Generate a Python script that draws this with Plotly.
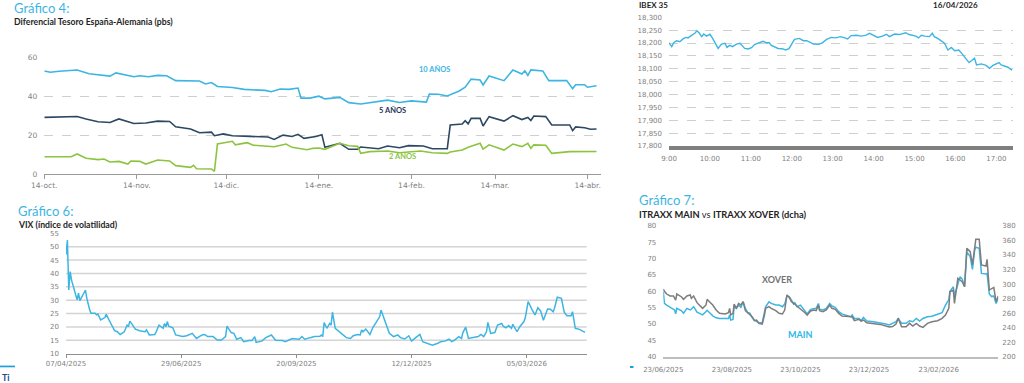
import plotly.graph_objects as go

# ---------------- DATA ----------------
# Gráfico 4: Diferencial Tesoro España-Alemania (pbs)
spread10_dates = ["2025-10-14","2025-10-16","2025-10-19","2025-10-22","2025-10-25","2025-10-29","2025-11-01","2025-11-05","2025-11-07","2025-11-10","2025-11-13","2025-11-15","2025-11-18","2025-11-21","2025-11-24","2025-11-27","2025-12-05","2025-12-07","2025-12-09","2025-12-11","2025-12-16","2025-12-20","2025-12-27","2025-12-29","2026-01-01","2026-01-04","2026-01-07","2026-01-08","2026-01-11","2026-01-14","2026-01-16","2026-01-21","2026-01-24","2026-01-28","2026-02-03","2026-02-06","2026-02-10","2026-02-14","2026-02-19","2026-02-20","2026-02-23","2026-02-26","2026-03-02","2026-03-04","2026-03-06","2026-03-09","2026-03-10","2026-03-12","2026-03-17","2026-03-20","2026-03-23","2026-03-24","2026-03-25","2026-03-26","2026-03-30","2026-04-01","2026-04-07","2026-04-09","2026-04-10","2026-04-13","2026-04-14","2026-04-17"]
spread10_vals = [53,52.3,52.8,53,53.5,51.5,51,50.3,52,51,50,50.5,50,50.7,50.5,48,47.8,46.3,47,45,44.5,43.5,43,42.3,43.7,43.5,44.2,39,39,40,38.6,39.4,36.7,36,37.2,38,36.8,37.6,37,41.1,41,40.1,42.7,44.6,48.8,48.3,45.8,50.4,48,53.5,51.4,53.1,50.7,53.5,53,48,48,43.9,45.9,45.9,44.6,45.4]

spread5_dates = ["2025-10-14","2025-10-25","2025-10-28","2025-11-01","2025-11-05","2025-11-08","2025-11-13","2025-11-17","2025-11-21","2025-11-25","2025-11-27","2025-12-02","2025-12-05","2025-12-09","2025-12-10","2025-12-13","2025-12-16","2025-12-22","2025-12-28","2025-12-30","2026-01-02","2026-01-05","2026-01-07","2026-01-09","2026-01-13","2026-01-15","2026-01-16","2026-01-21","2026-01-24","2026-01-27","2026-01-28","2026-02-03","2026-02-06","2026-02-10","2026-02-13","2026-02-18","2026-02-21","2026-02-26","2026-02-27","2026-03-03","2026-03-04","2026-03-05","2026-03-06","2026-03-09","2026-03-10","2026-03-12","2026-03-17","2026-03-20","2026-03-23","2026-03-25","2026-03-26","2026-03-27","2026-03-31","2026-04-02","2026-04-08","2026-04-09","2026-04-10","2026-04-13","2026-04-15","2026-04-17"]
spread5_vals = [29.1,29.6,28.3,26.9,26.5,28.3,26,26.2,27.2,27,24.3,23.1,21.2,21.5,19.7,20.6,19.7,19.2,19,17.8,20,19.3,20.4,18.3,19.3,20.2,13.7,15.8,12.7,12.7,13.9,13,14.4,13.5,14.6,14.4,13,13,25.2,25.7,27.4,25.8,28.6,28.6,24.7,29.5,27.2,30,28,29.1,27.5,29.8,29.5,25.2,25.2,22.3,24.2,23.8,23,23.1]

spread2_dates = ["2025-10-14","2025-10-21","2025-10-23","2025-10-25","2025-10-28","2025-11-01","2025-11-03","2025-11-05","2025-11-08","2025-11-11","2025-11-12","2025-11-15","2025-11-17","2025-11-21","2025-11-25","2025-11-27","2025-12-02","2025-12-03","2025-12-04","2025-12-09","2025-12-10","2025-12-11","2025-12-13","2025-12-16","2025-12-17","2025-12-21","2025-12-23","2025-12-28","2025-12-30","2026-01-03","2026-01-05","2026-01-10","2026-01-12","2026-01-14","2026-01-16","2026-01-21","2026-01-24","2026-01-27","2026-01-28","2026-01-31","2026-02-06","2026-02-10","2026-02-17","2026-02-21","2026-02-26","2026-02-27","2026-03-03","2026-03-05","2026-03-09","2026-03-10","2026-03-12","2026-03-17","2026-03-20","2026-03-23","2026-03-25","2026-03-26","2026-03-27","2026-03-31","2026-04-02","2026-04-08","2026-04-10","2026-04-15","2026-04-17"]
spread2_vals = [8.9,9.2,8.9,10.3,8.1,7.4,7.7,6.2,6.5,5.1,6.7,6.5,5.1,7.2,6.7,4.3,3.4,4.5,2.7,2.6,1.4,15.4,16.1,16.8,15,16.1,14.8,14.1,14,15.4,13.7,12.5,13.2,13.4,12.7,15.8,14.5,14.2,10.6,11.5,11.8,10.9,11.8,10.9,10.6,11.3,12.3,13.7,15.8,12.8,15,12.3,15.4,14.1,15.8,13.2,15,14.8,10.6,11.5,11.5,11.3,11.6]

spread_tick_dates = ["2025-10-14","2025-11-14","2025-12-14","2026-01-14","2026-02-14","2026-03-14","2026-04-14"]
spread_tick_text = ["14-oct.","14-nov.","14-dic.","14-ene.","14-feb.","14-mar.","14-abr."]

# IBEX 35 intradía 16/04/2026
ibex_day = "2026-04-16"
ibex_times = ["09:00","09:04","09:07","09:11","09:16","09:21","09:25","09:28","09:33","09:38","09:41","09:44","09:48","09:51","09:55","10:00","10:04","10:07","10:12","10:17","10:22","10:25","10:29","10:33","10:39","10:44","10:48","10:51","10:56","11:01","11:06","11:12","11:18","11:23","11:27","11:30","11:35","11:40","11:46","11:51","11:56","12:00","12:04","12:11","12:17","12:22","12:27","12:32","12:39","12:45","12:51","12:58","13:05","13:11","13:18","13:22","13:27","13:35","13:42","13:49","13:54","14:00","14:06","14:13","14:19","14:23","14:31","14:38","14:44","14:47","14:52","14:58","15:02","15:06","15:10","15:15","15:22","15:26","15:29","15:34","15:39","15:44","15:49","15:54","15:59","16:05","16:11","16:16","16:20","16:24","16:28","16:31","16:38","16:45","16:50","16:55","17:00","17:04","17:07","17:12","17:17","17:23"]
ibex_vals = [18201,18186,18201,18209,18205,18217,18222,18220,18230,18238,18248,18240,18225,18235,18227,18234,18218,18201,18179,18196,18199,18183,18191,18186,18196,18199,18186,18179,18177,18182,18195,18201,18207,18201,18201,18191,18186,18179,18178,18173,18178,18199,18214,18218,18209,18209,18201,18196,18195,18201,18214,18222,18220,18225,18220,18216,18229,18230,18227,18231,18238,18231,18222,18227,18234,18225,18235,18233,18238,18240,18233,18231,18227,18220,18230,18227,18225,18238,18225,18218,18209,18199,18173,18183,18170,18173,18154,18137,18124,18132,18141,18115,18119,18113,18102,18113,18119,18124,18115,18111,18106,18095]
ibex_tick_times = ["09:00","10:00","11:00","12:00","13:00","14:00","15:00","16:00","17:00"]
ibex_tick_text = ["9:00","10:00","11:00","12:00","13:00","14:00","15:00","16:00","17:00"]

# Gráfico 6: VIX
vix_dates = ["2025-04-07","2025-04-08","2025-04-09","2025-04-10","2025-04-11","2025-04-14","2025-04-15","2025-04-16","2025-04-17","2025-04-21","2025-04-22","2025-04-24","2025-04-25","2025-04-28","2025-04-29","2025-04-30","2025-05-02","2025-05-05","2025-05-06","2025-05-08","2025-05-12","2025-05-14","2025-05-16","2025-05-19","2025-05-21","2025-05-22","2025-05-23","2025-05-27","2025-05-30","2025-06-03","2025-06-04","2025-06-06","2025-06-10","2025-06-11","2025-06-13","2025-06-16","2025-06-17","2025-06-18","2025-06-19","2025-06-20","2025-06-23","2025-06-25","2025-06-30","2025-07-03","2025-07-07","2025-07-10","2025-07-14","2025-07-16","2025-07-18","2025-07-22","2025-07-25","2025-07-28","2025-07-31","2025-08-01","2025-08-04","2025-08-06","2025-08-08","2025-08-11","2025-08-13","2025-08-17","2025-08-19","2025-08-21","2025-08-22","2025-08-26","2025-08-29","2025-09-02","2025-09-05","2025-09-10","2025-09-12","2025-09-17","2025-09-22","2025-09-24","2025-09-26","2025-09-30","2025-10-03","2025-10-07","2025-10-08","2025-10-09","2025-10-10","2025-10-12","2025-10-14","2025-10-15","2025-10-16","2025-10-18","2025-10-21","2025-10-23","2025-10-26","2025-10-29","2025-10-31","2025-11-03","2025-11-05","2025-11-06","2025-11-07","2025-11-09","2025-11-12","2025-11-14","2025-11-16","2025-11-19","2025-11-20","2025-11-22","2025-11-24","2025-11-26","2025-11-29","2025-12-02","2025-12-04","2025-12-07","2025-12-10","2025-12-12","2025-12-15","2025-12-18","2025-12-20","2025-12-24","2025-12-27","2025-12-31","2026-01-02","2026-01-05","2026-01-08","2026-01-10","2026-01-12","2026-01-15","2026-01-17","2026-01-18","2026-01-20","2026-01-22","2026-01-25","2026-01-29","2026-01-31","2026-02-02","2026-02-04","2026-02-05","2026-02-07","2026-02-10","2026-02-12","2026-02-15","2026-02-16","2026-02-18","2026-02-20","2026-02-22","2026-02-23","2026-02-26","2026-02-28","2026-03-03","2026-03-04","2026-03-06","2026-03-09","2026-03-11","2026-03-13","2026-03-15","2026-03-17","2026-03-20","2026-03-22","2026-03-24","2026-03-25","2026-03-27","2026-03-30","2026-04-01","2026-04-03","2026-04-06","2026-04-07","2026-04-09","2026-04-12","2026-04-16"]
vix_vals = [47,52.5,33.8,40.7,37.5,31.5,30.1,32.6,29.8,33.8,30.7,26.5,25.1,25.1,24.5,24.8,22.6,23.5,24.7,22.6,18.6,18.2,17.2,18.2,20.7,20.1,22.2,19.2,18.6,18.2,18.9,17,17.2,18.2,20.7,19.5,21.3,20.1,22,20.3,19.7,17,16.4,16.7,17.6,15.7,17,17.2,16.4,16.4,15.1,15.1,16.4,20.3,17.9,17.6,15.4,16,14.5,14.9,14.9,16.4,14.2,14.7,16,17,15,14.9,14.5,15.7,15.4,16.4,15.4,16,16.4,16.5,17,16.4,21.6,19.5,21.3,20.7,25.5,19.5,18.2,17.6,16,15.7,16.7,17.2,17,18.9,18.2,19.2,17.2,19.7,21.3,23.8,26.3,23.5,20.7,17.6,16.4,17,16,15.5,16.7,14.7,16,17.2,14.5,13.9,13.2,13.9,14.5,14.7,15.4,14.5,15.1,16.4,15.7,17.9,19.9,15.7,16,16.4,17.2,16.4,18.2,21.7,17.6,17.9,20.7,21.3,20.3,19.7,20.5,19.5,21,18.2,20.1,22,23.5,29.5,26.3,24.5,27.2,26,22.5,26.7,26.6,25.7,27,31.1,30.7,25.5,24.2,24.2,25.7,19.5,19.1,18]
vix_tick_dates = ["2025-04-07","2025-06-29","2025-09-20","2025-12-12","2026-03-05"]
vix_tick_text = ["07/04/2025","29/06/2025","20/09/2025","12/12/2025","05/03/2026"]
vix_grid_levels = [15, 20, 25, 30, 35, 40, 45, 50]

# Gráfico 7: ITRAXX MAIN vs ITRAXX XOVER (dcha)
itraxx_dates = ["2025-06-23","2025-06-24","2025-06-26","2025-06-29","2025-07-02","2025-07-03","2025-07-04","2025-07-05","2025-07-09","2025-07-11","2025-07-14","2025-07-17","2025-07-18","2025-07-20","2025-07-23","2025-07-25","2025-07-28","2025-07-31","2025-08-01","2025-08-03","2025-08-06","2025-08-09","2025-08-12","2025-08-17","2025-08-20","2025-08-21","2025-08-22","2025-08-24","2025-08-25","2025-08-27","2025-08-29","2025-08-31","2025-09-02","2025-09-04","2025-09-06","2025-09-08","2025-09-10","2025-09-12","2025-09-14","2025-09-16","2025-09-19","2025-09-21","2025-09-22","2025-09-25","2025-09-27","2025-10-01","2025-10-04","2025-10-07","2025-10-09","2025-10-11","2025-10-13","2025-10-15","2025-10-17","2025-10-18","2025-10-20","2025-10-23","2025-10-25","2025-10-27","2025-10-29","2025-11-01","2025-11-04","2025-11-06","2025-11-08","2025-11-09","2025-11-12","2025-11-15","2025-11-18","2025-11-20","2025-11-23","2025-11-26","2025-11-29","2025-12-03","2025-12-07","2025-12-08","2025-12-10","2025-12-14","2025-12-16","2025-12-18","2025-12-21","2025-12-27","2026-01-02","2026-01-07","2026-01-10","2026-01-13","2026-01-16","2026-01-18","2026-01-21","2026-01-25","2026-01-28","2026-01-31","2026-02-03","2026-02-06","2026-02-09","2026-02-13","2026-02-17","2026-02-22","2026-02-26","2026-03-01","2026-03-04","2026-03-05","2026-03-08","2026-03-09","2026-03-12","2026-03-14","2026-03-16","2026-03-18","2026-03-20","2026-03-23","2026-03-25","2026-03-27","2026-03-28","2026-03-31","2026-04-02","2026-04-06","2026-04-07","2026-04-09","2026-04-11","2026-04-13","2026-04-15","2026-04-17"]
main_vals = [59.9,56.3,55.8,55.2,54.5,54.3,53.1,54.8,54.1,53.3,54.8,54.3,54.6,55.3,53.6,53.2,52.8,53.8,54.2,53.5,52.5,51.9,51.7,51.7,51.7,52.8,51.2,51.4,55.3,54.8,55.8,55.1,56.8,54.8,53.5,53.3,52,51.2,50.7,50.4,50.4,53.8,55.3,56.8,56.3,55.8,55.8,55.3,56.1,58.6,58.4,57.3,56.1,56.5,55.3,55.8,54.8,53.8,53.1,54.5,54.8,54.8,56.3,54.5,54.3,54.8,56.3,55.5,55.1,53.8,53.1,52.6,52.2,52.8,51.7,51.7,51,52,50.9,50.7,50.4,50,49.7,50.2,50.7,51.7,50.2,50.2,51,50.7,51.7,50.9,51.7,52.2,52.4,53,53.5,55.8,57.5,60,61.4,58.6,61.9,64.5,63.7,61.4,72.1,70.6,66.7,72.7,73.5,73.2,65.5,65.3,65.5,59.2,58.4,58.6,56.3,57.9]
xover_vals = [293,290,286.3,283.6,283.6,280.3,278,286.3,282.6,279,283.6,285,280.3,283.6,274.4,271.2,266.6,271.2,279,275.8,271.2,264.3,259.7,258.8,260.6,266.6,257.4,259.7,272.5,266.6,273.5,271.2,275.8,263.4,261,258.8,255.1,249.6,250.5,245.9,245,257.4,266.6,268.9,266.6,263.4,259.7,258.8,264.3,285,281.7,275.8,274,272.5,269.5,266,263.5,260.6,257.4,263,264.3,263.4,271.2,263.4,262,264.3,271.2,266.6,265.2,259.7,256,255.1,254.2,255,249.6,251.4,249,250.5,246.8,245.9,244.5,242.2,241,241.5,245,252.8,241.3,241.3,245.9,242.2,245.9,242.2,240.4,245.9,248.2,249.6,252.8,257.4,266.6,289.5,291.8,273.5,307.9,305.6,303,296.4,349.2,344.6,326.3,350,361.6,361.6,326.3,324.9,334,291.8,294.1,295.5,275.8,283.6]
itraxx_tick_dates = ["2025-06-23","2025-08-23","2025-10-23","2025-12-23","2026-02-23"]
itraxx_tick_text = ["23/06/2025","23/08/2025","23/10/2025","23/12/2025","23/02/2026"]

# ---------------- STYLE ----------------
W, H = 1024, 383
CYAN = "#3DB5E3"
NAVY = "#2C4863"
GREEN = "#8CC43F"
GREY_LINE = "#7D7D7D"
TICK_GREY = "#7F7F7F"
TITLE_CYAN = "#3DB5E3"
TEXT_DARK = "#1E1E1E"
TICKFONT = dict(family="DejaVu Sans", size=7, color=TICK_GREY)


def px_x(x):
    return x / W


def px_y(y):
    return 1 - y / H


fig = go.Figure()

# Panel 1
fig.add_trace(go.Scatter(x=spread10_dates, y=spread10_vals, mode="lines", line=dict(color=CYAN, width=1.6), xaxis="x", yaxis="y", hoverinfo="skip"))
fig.add_trace(go.Scatter(x=spread5_dates, y=spread5_vals, mode="lines", line=dict(color=NAVY, width=1.6), xaxis="x", yaxis="y", hoverinfo="skip"))
fig.add_trace(go.Scatter(x=spread2_dates, y=spread2_vals, mode="lines", line=dict(color=GREEN, width=1.6), xaxis="x", yaxis="y", hoverinfo="skip"))

# Panel 2
fig.add_trace(go.Scatter(x=[f"{ibex_day} {t}" for t in ibex_times], y=ibex_vals, mode="lines", line=dict(color=CYAN, width=1.4), xaxis="x2", yaxis="y2", hoverinfo="skip"))

# Panel 3
fig.add_trace(go.Scatter(x=vix_dates, y=vix_vals, mode="lines", line=dict(color=CYAN, width=1.5), xaxis="x3", yaxis="y3", hoverinfo="skip"))

# Panel 4
fig.add_trace(go.Scatter(x=itraxx_dates, y=xover_vals, mode="lines", line=dict(color=GREY_LINE, width=1.5), xaxis="x4", yaxis="y5", hoverinfo="skip"))
fig.add_trace(go.Scatter(x=itraxx_dates, y=main_vals, mode="lines", line=dict(color=CYAN, width=1.5), xaxis="x4", yaxis="y4", hoverinfo="skip"))

layout = dict(
    width=W, height=H, margin=dict(l=0, r=0, t=0, b=0, autoexpand=False), autosize=False,
    paper_bgcolor="white", plot_bgcolor="white", showlegend=False, template="none",
    # Panel 1
    xaxis=dict(domain=[px_x(44.3), px_x(601)], type="date", range=["2025-10-14", "2026-04-18 12:00"],
               tickvals=spread_tick_dates, ticktext=spread_tick_text, tickfont=dict(family="DejaVu Sans", size=7.5, color=TICK_GREY),
               showgrid=False, showline=True, linecolor="#9A9A9A", linewidth=1, ticks="outside", ticklen=4, tickcolor="#9A9A9A",
               anchor="y", zeroline=False, automargin=False),
    yaxis=dict(domain=[px_y(174), px_y(57.3)], range=[0, 60], tickvals=[0, 20, 40, 60], tickfont=dict(family="DejaVu Sans", size=7.5, color=TICK_GREY),
               showgrid=True, gridcolor="#CFCFCF", griddash="dash", gridwidth=1, zeroline=False, showline=False,
               ticks="", ticklabelstandoff=6, anchor="x", automargin=False),
    # Panel 2
    xaxis2=dict(domain=[px_x(669), px_x(1012.7)], type="date", range=[f"{ibex_day} 09:00", f"{ibex_day} 17:24"],
                tickvals=[f"{ibex_day} {t}" for t in ibex_tick_times], ticktext=ibex_tick_text, tickfont=TICKFONT,
                showgrid=False, showline=True, linecolor="#7F7F7F", linewidth=3.5, ticks="", anchor="y2", zeroline=False,
                ticklabelstandoff=3, automargin=False),
    yaxis2=dict(domain=[px_y(146), px_y(17.3)], range=[17800, 18300], dtick=50, tickformat=",d", tickfont=TICKFONT,
                showgrid=True, gridcolor="#CFCFCF", griddash="dash", gridwidth=1, zeroline=False, showline=False,
                ticks="", ticklabelstandoff=6, anchor="x2", automargin=False),
    # Panel 3
    xaxis3=dict(domain=[px_x(66), px_x(586.7)], type="date", range=["2025-04-07", "2026-04-17 05:00"],
                tickvals=vix_tick_dates, ticktext=vix_tick_text, tickfont=TICKFONT,
                showgrid=False, showline=True, linecolor="#8F8F8F", linewidth=1.2, ticks="outside", ticklen=3, tickcolor="#8F8F8F",
                anchor="y3", zeroline=False, automargin=False),
    yaxis3=dict(domain=[px_y(353.7), px_y(233.3)], range=[10, 55], dtick=5, tickfont=TICKFONT,
                showgrid=False, zeroline=False, showline=False, ticks="", ticklabelstandoff=6, anchor="x3", automargin=False),
    # Panel 4
    xaxis4=dict(domain=[px_x(663.3), px_x(998.3)], type="date", range=["2025-06-23", "2026-04-17"],
                tickvals=itraxx_tick_dates, ticktext=itraxx_tick_text, tickfont=TICKFONT,
                showgrid=False, showline=True, linecolor="#BDBDBD", linewidth=2, ticks="", anchor="y4", zeroline=False,
                ticklabelstandoff=5, automargin=False),
    yaxis4=dict(domain=[px_y(356.7), px_y(226)], range=[40, 80], dtick=5, tickfont=TICKFONT,
                showgrid=False, zeroline=False, showline=False, ticks="", ticklabelstandoff=6, anchor="x4", automargin=False),
    yaxis5=dict(range=[200, 380], dtick=20, tickfont=TICKFONT, overlaying="y4", side="right", anchor="x4",
                showgrid=False, zeroline=False, showline=False, ticks="", ticklabelstandoff=3, automargin=False),
)
fig.update_layout(**layout)

# VIX solid gridlines (no line at the top value)
shapes = []
for lv in vix_grid_levels:
    shapes.append(dict(type="line", xref="x3 domain", yref="y3", x0=0, x1=1, y0=lv, y1=lv,
                       line=dict(color="#D4D4D4", width=1.5), layer="below"))
# small page marks
shapes.append(dict(type="rect", xref="paper", yref="paper", x0=0, x1=px_x(15), y0=px_y(367.3), y1=px_y(365.6),
                   line=dict(width=0), fillcolor="#1BA1DA"))
shapes.append(dict(type="rect", xref="paper", yref="paper", x0=px_x(630), x1=px_x(633.5), y0=px_y(368), y1=px_y(366),
                   line=dict(width=0), fillcolor="#1BA1DA"))
fig.update_layout(shapes=shapes)


def ann(text, x, y, size, color, family="Lato", xanchor="left", bold=False):
    return dict(text=f"<b>{text}</b>" if bold else text, x=px_x(x), y=px_y(y), xref="paper", yref="paper",
                xanchor=xanchor, yanchor="middle", showarrow=False, font=dict(family=family, size=size, color=color))


annotations = [
    ann("Gráfico 4:", 12, 7.5, 13, TITLE_CYAN),
    ann("Diferencial Tesoro España-Alemania (pbs)", 12, 21, 8.7, TEXT_DARK, bold=True),
    ann("10 AÑOS", 434, 69, 7.5, CYAN, xanchor="center", bold=True),
    ann("5 AÑOS", 392.5, 110, 7.5, "#1F3556", xanchor="center", bold=True),
    ann("2 AÑOS", 402, 156.5, 7.5, GREEN, xanchor="center", bold=True),
    ann("IBEX 35", 636.5, 5, 8, TEXT_DARK, bold=True),
    ann("16/04/2026", 955, 5, 8, TEXT_DARK, xanchor="center", bold=True),
    ann("Gráfico 6:", 16, 210.5, 13, TITLE_CYAN),
    ann("VIX (índice de volatilidad)", 16, 224, 8.7, TEXT_DARK, bold=True),
    ann("Gráfico 7:", 636.5, 199.5, 13, TITLE_CYAN),
    ann("<b>ITRAXX MAIN</b> vs <b>ITRAXX XOVER (dcha)</b>", 636.5, 214, 9.3, TEXT_DARK),
    ann("XOVER", 776.5, 279.5, 9, "#737373", xanchor="center", bold=True),
    ann("MAIN", 799.5, 334.5, 9, "#2DB8EA", xanchor="center", bold=True),
    ann("Ti", 0, 377, 9, "#1B4F8A", bold=True),
]
fig.update_layout(annotations=annotations)

fig.write_html("out.html", config={"displayModeBar": False, "staticPlot": True},
               post_script="document.body.style.margin='0px';document.body.style.overflow='hidden';")
